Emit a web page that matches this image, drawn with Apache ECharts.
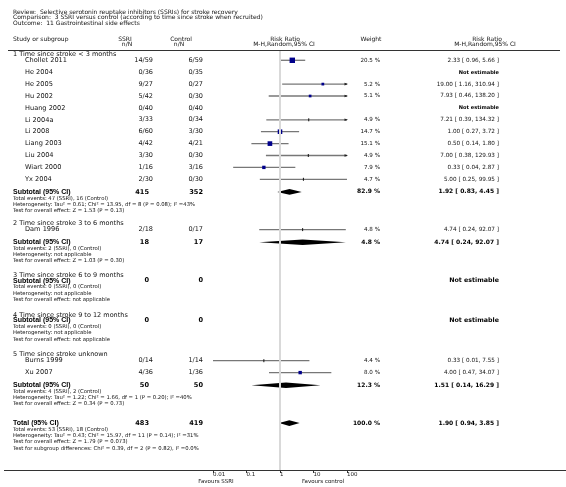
<!DOCTYPE html>
<html><head><meta charset="utf-8">
<script src="https://cdn.jsdelivr.net/npm/echarts@6/dist/echarts.min.js"></script>
<style>html,body{margin:0;padding:0;background:#fff}#c{width:566px;height:487px}</style>
</head><body><div id="c"></div>
<script>
// ---------- DATA ----------
const titleLines = [
  'Review:  Selective serotonin reuptake inhibitors (SSRIs) for stroke recovery',
  'Comparison:  3 SSRI versus control (according to time since stroke when recruited)',
  'Outcome:  11 Gastrointestinal side effects'
];
const groupNames = [
  '1 Time since stroke < 3 months',
  '2 Time since stroke 3 to 6 months',
  '3 Time since stroke 6 to 9 months',
  '4 Time since stroke 9 to 12 months',
  '5 Time since stroke unknown'
];
const studyNames  = ['Chollet 2011','He 2004','He 2005','Hu 2002','Huang 2002','Li 2004a','Li 2008','Liang 2003','Liu 2004','Wiart 2000','Yx 2004','Dam 1996','Burns 1999','Xu 2007'];
const studyGroup  = [0,0,0,0,0,0,0,0,0,0,0,1,4,4];
const ssriEvents  = [14,0,9,5,0,3,6,4,3,1,2,2,0,4];
const ssriTotal   = [59,36,27,42,40,33,60,42,30,16,30,18,14,36];
const ctrlEvents  = [6,0,0,0,0,0,3,4,0,3,0,0,1,1];
const ctrlTotal   = [59,35,27,30,40,34,30,21,30,16,30,17,14,36];
const studyWeight = [20.5,null,5.2,5.1,null,4.9,14.7,15.1,4.9,7.9,4.7,4.8,4.4,8.0];
const studyRR     = [2.33,null,19.00,7.93,null,7.21,1.00,0.50,7.00,0.33,5.00,4.74,0.33,4.00];
const studyLo     = [0.96,null,1.16,0.46,null,0.39,0.27,0.14,0.38,0.04,0.25,0.24,0.01,0.47];
const studyHi     = [5.66,null,310.94,138.20,null,134.32,3.72,1.80,129.93,2.87,99.95,92.07,7.55,34.07];

const subSSRITotal  = [415,18,0,0,50];
const subCtrlTotal  = [352,17,0,0,50];
const subSSRIEvents = [47,2,0,0,4];
const subCtrlEvents = [16,0,0,0,2];
const subWeight = [82.9,4.8,null,null,12.3];
const subRR = [1.92,4.74,null,null,1.51];
const subLo = [0.83,0.24,null,null,0.14];
const subHi = [4.45,92.07,null,null,16.29];
const subHeterogeneity = [
  'Heterogeneity: Tau² = 0.61; Chi² = 13.95, df = 8 (P = 0.08); I² =43%',
  'Heterogeneity: not applicable',
  'Heterogeneity: not applicable',
  'Heterogeneity: not applicable',
  'Heterogeneity: Tau² = 1.22; Chi² = 1.66, df = 1 (P = 0.20); I² =40%'
];
const subOverall = [
  'Test for overall effect: Z = 1.53 (P = 0.13)',
  'Test for overall effect: Z = 1.03 (P = 0.30)',
  'Test for overall effect: not applicable',
  'Test for overall effect: not applicable',
  'Test for overall effect: Z = 0.34 (P = 0.73)'
];
const totalSSRI = 483, totalCtrl = 419, totalSSRIEvents = 53, totalCtrlEvents = 18;
const totalWeight = 100.0, totalRR = 1.90, totalLo = 0.94, totalHi = 3.85;
const totalInfo = [
  'Heterogeneity: Tau² = 0.43; Chi² = 15.97, df = 11 (P = 0.14); I² =31%',
  'Test for overall effect: Z = 1.79 (P = 0.073)',
  'Test for subgroup differences: Chi² = 0.39, df = 2 (P = 0.82), I² =0.0%'
];
const tickValues = [0.01, 0.1, 1, 10, 100];
const tickLabels = ['0.01', '0.1', '1', '10', '100'];
const favoursLeft = 'Favours SSRI', favoursRight = 'Favours control';

// ---------- LAYOUT ----------
const FONT = 'DejaVu Sans, Verdana, sans-serif';
const BFONT = 'Liberation Sans, Arial, sans-serif';
const COL = {label: 13, study: 25, ssri: 153, ctrl: 203, subSsri: 149, weight: 380, rr: 499};
const GAP = {first: 54, groupBefore: [0, 12.5, 14.5, 16, 15], studyAfterGroup: 6.3, study: 11.9, subAfterStudy: 12.6, subAfterGroup: 5, info: 6.3, total: 19};
const rows = [];
let curY = null, prevKind = null;
function push(kind, extra) {
  let g;
  if (curY === null) { curY = GAP.first; }
  else {
    if (kind === 'group') g = GAP.groupBefore[extra.gi];
    else if (kind === 'study') g = prevKind === 'group' ? GAP.studyAfterGroup : GAP.study;
    else if (kind === 'subtotal') g = prevKind === 'group' ? GAP.subAfterGroup : GAP.subAfterStudy;
    else if (kind === 'info') g = GAP.info;
    else if (kind === 'total') g = GAP.total;
    curY += g;
  }
  prevKind = kind;
  rows.push(Object.assign({kind: kind, y: curY}, extra));
}
groupNames.forEach(function (gn, gi) {
  push('group', {text: gn, gi: gi});
  studyNames.forEach(function (sn, si) {
    if (studyGroup[si] === gi) push('study', {i: si});
  });
  push('subtotal', {g: gi});
  push('info', {text: 'Total events: ' + subSSRIEvents[gi] + ' (SSRI), ' + subCtrlEvents[gi] + ' (Control)'});
  push('info', {text: subHeterogeneity[gi]});
  push('info', {text: subOverall[gi]});
});
push('total', {});
push('info', {text: 'Total events: ' + totalSSRIEvents + ' (SSRI), ' + totalCtrlEvents + ' (Control)'});
totalInfo.forEach(function (t) { push('info', {text: t}); });

function fmtCI(rr, lo, hi) { return rr.toFixed(2) + ' [ ' + lo.toFixed(2) + ', ' + hi.toFixed(2) + ' ]'; }
function fmtW(w) { return w.toFixed(1) + ' %'; }

function txt(x, y, s, size, weight, align, family) {
  return {type: 'text', style: {x: x, y: y, text: s, fill: weight === 'bold' ? '#000' : '#111', fontSize: size, fontFamily: family || FONT,
    fontWeight: weight || 'normal', align: align || 'left', verticalAlign: 'middle'}};
}

// ---------- CHART ----------
const chart = echarts.init(document.getElementById('c'), null, {renderer: 'canvas'});
const xMin = tickValues[0], xMax = tickValues[tickValues.length - 1];

const studyData = studyNames.map(function (n, i) {
  const r = rows.find(function (rw) { return rw.kind === 'study' && rw.i === i; });
  return [studyRR[i] == null ? 1 : studyRR[i], r.y, studyLo[i], studyHi[i], studyWeight[i], studyRR[i] == null ? 0 : 1];
});
const diamondData = [];
rows.forEach(function (r) {
  if (r.kind === 'subtotal' && subRR[r.g] != null) diamondData.push([subRR[r.g], r.y, subLo[r.g], subHi[r.g]]);
  if (r.kind === 'total') diamondData.push([totalRR, r.y, totalLo, totalHi]);
});

function hdr(x, y, s, align) {
  return {type: 'text', x: x, y: y, style: {text: s, fontSize: 6, fontFamily: FONT, fill: '#111', align: align || 'center', verticalAlign: 'middle'}};
}

const option = {
  animation: false,
  backgroundColor: '#fff',
  grid: {left: 213, width: 134, top: 51, bottom: 17},
  xAxis: {
    type: 'log', logBase: 10, min: xMin, max: xMax, interval: 1,
    axisLine: {show: false},
    axisTick: {show: true, length: 3, lineStyle: {color: '#333', width: 1}},
    splitLine: {show: false},
    axisLabel: {show: true, fontSize: 5.5, fontFamily: FONT, color: '#222', margin: 2, align: 'left',
      formatter: function (v) { const k = tickValues.findIndex(function (t) { return Math.abs(Math.log10(t) - Math.log10(v)) < 1e-6; }); return k >= 0 ? tickLabels[k] : ''; }}
  },
  yAxis: {type: 'value', min: 51, max: 470, inverse: true, show: false},
  graphic: [
    hdr(13, 12, titleLines[0], 'left'),
    hdr(13, 17.7, titleLines[1], 'left'),
    hdr(13, 23.3, titleLines[2], 'left'),
    hdr(13, 39, 'Study or subgroup', 'left'),
    hdr(125, 39, 'SSRI'),
    hdr(127, 44.5, 'n/N'),
    hdr(181, 39, 'Control'),
    hdr(179, 44.5, 'n/N'),
    hdr(285, 39, 'Risk Ratio'),
    hdr(284, 44.5, 'M-H,Random,95% CI'),
    hdr(371, 39, 'Weight'),
    hdr(487, 39, 'Risk Ratio'),
    hdr(485, 44.5, 'M-H,Random,95% CI'),
    {type: 'line', shape: {x1: 8, y1: 50.5, x2: 560, y2: 50.5}, style: {stroke: '#333', lineWidth: 1}},
    {type: 'line', shape: {x1: 4, y1: 470.5, x2: 566, y2: 470.5}, style: {stroke: '#333', lineWidth: 1}},
    {type: 'text', x: 216, y: 482, style: {text: favoursLeft, fontSize: 5.5, fontFamily: FONT, fill: '#111', align: 'center', verticalAlign: 'middle'}},
    {type: 'text', x: 323, y: 482, style: {text: favoursRight, fontSize: 5.5, fontFamily: FONT, fill: '#111', align: 'center', verticalAlign: 'middle'}}
  ],
  series: [
    {
      type: 'custom', name: 'text', silent: true, clip: false,
      data: rows.map(function (r) { return [1, r.y]; }),
      encode: {x: 0, y: 1},
      renderItem: function (params, api) {
        const r = rows[params.dataIndex];
        const y = api.coord([1, r.y])[1];
        const ch = [];
        if (r.kind === 'group') ch.push(txt(COL.label, y, r.text, 6.5));
        else if (r.kind === 'info') ch.push(txt(COL.label, y, r.text, 5.3));
        else if (r.kind === 'study') {
          const i = r.i;
          ch.push(txt(COL.study, y, studyNames[i], 6.6));
          ch.push(txt(COL.ssri, y, ssriEvents[i] + '/' + ssriTotal[i], 6.5, 'normal', 'right'));
          ch.push(txt(COL.ctrl, y, ctrlEvents[i] + '/' + ctrlTotal[i], 6.5, 'normal', 'right'));
          if (studyWeight[i] != null) {
            ch.push(txt(COL.weight, y, fmtW(studyWeight[i]), 5.6, 'normal', 'right'));
            ch.push(txt(COL.rr, y, fmtCI(studyRR[i], studyLo[i], studyHi[i]), 5.7, 'normal', 'right'));
          } else {
            ch.push(txt(COL.rr, y, 'Not estimable', 5.1, 'bold', 'right'));
          }
        } else if (r.kind === 'subtotal' || r.kind === 'total') {
          const isT = r.kind === 'total';
          const g = r.g;
          ch.push(txt(COL.label, y, isT ? 'Total (95% CI)' : 'Subtotal (95% CI)', 7, 'bold', 'left', BFONT));
          ch.push(txt(COL.subSsri, y, String(isT ? totalSSRI : subSSRITotal[g]), 6.6, 'bold', 'right'));
          ch.push(txt(COL.ctrl, y, String(isT ? totalCtrl : subCtrlTotal[g]), 6.6, 'bold', 'right'));
          const w = isT ? totalWeight : subWeight[g];
          if (w != null) {
            ch.push(txt(COL.weight, y, fmtW(w), 6, 'bold', 'right'));
            ch.push(txt(COL.rr, y, isT ? fmtCI(totalRR, totalLo, totalHi) : fmtCI(subRR[g], subLo[g], subHi[g]), 6, 'bold', 'right'));
          } else {
            ch.push(txt(COL.rr, y, 'Not estimable', 6.3, 'bold', 'right'));
          }
        }
        return {type: 'group', children: ch};
      }
    },
    {
      type: 'custom', name: 'studies', silent: true, clip: false,
      data: studyData,
      encode: {x: 0, y: 1},
      markLine: {
        silent: true, symbol: 'none', label: {show: false},
        lineStyle: {color: '#d9d9d9', width: 2, type: 'solid'},
        data: [{xAxis: 1}]
      },
      renderItem: function (params, api) {
        const d = studyData[params.dataIndex];
        if (!d[5]) return null;
        const p = api.coord([d[0], d[1]]);
        const pl = api.coord([Math.max(d[2], xMin), d[1]]);
        const ph = api.coord([Math.min(d[3], xMax), d[1]]);
        const ch = [{type: 'line', shape: {x1: pl[0], y1: p[1], x2: ph[0], y2: p[1]}, style: {stroke: '#777', lineWidth: 1.3}}];
        if (d[3] > xMax) ch.push({type: 'polygon', shape: {points: [[ph[0] + 1, p[1]], [ph[0] - 2.5, p[1] - 1.3], [ph[0] - 2.5, p[1] + 1.3]]}, style: {fill: '#222'}});
        if (d[2] < xMin) ch.push({type: 'polygon', shape: {points: [[pl[0] - 1, p[1]], [pl[0] + 2.5, p[1] - 1.3], [pl[0] + 2.5, p[1] + 1.3]]}, style: {fill: '#222'}});
        const w = d[4];
        if (w >= 5) {
          const s = 1.2 * Math.sqrt(w);
          ch.push({type: 'rect', shape: {x: p[0] - s / 2, y: p[1] - s / 2, width: s, height: s}, style: {fill: '#00008b'}});
        } else {
          ch.push({type: 'line', shape: {x1: p[0], y1: p[1] - 1.5, x2: p[0], y2: p[1] + 1.5}, style: {stroke: '#111', lineWidth: 1}});
        }
        return {type: 'group', children: ch};
      }
    },
    {
      type: 'custom', name: 'diamonds', silent: true, clip: false,
      data: diamondData,
      encode: {x: 0, y: 1},
      renderItem: function (params, api) {
        const d = diamondData[params.dataIndex];
        const p = api.coord([d[0], d[1]]);
        const pl = api.coord([Math.max(d[2], xMin), d[1]]);
        const ph = api.coord([Math.min(d[3], xMax), d[1]]);
        const h = 2.8;
        return {type: 'polygon', shape: {points: [[pl[0], p[1]], [p[0], p[1] - h], [ph[0], p[1]], [p[0], p[1] + h]]}, style: {fill: '#000'}};
      }
    }
  ]
};
chart.setOption(option);
</script>
</body></html>
